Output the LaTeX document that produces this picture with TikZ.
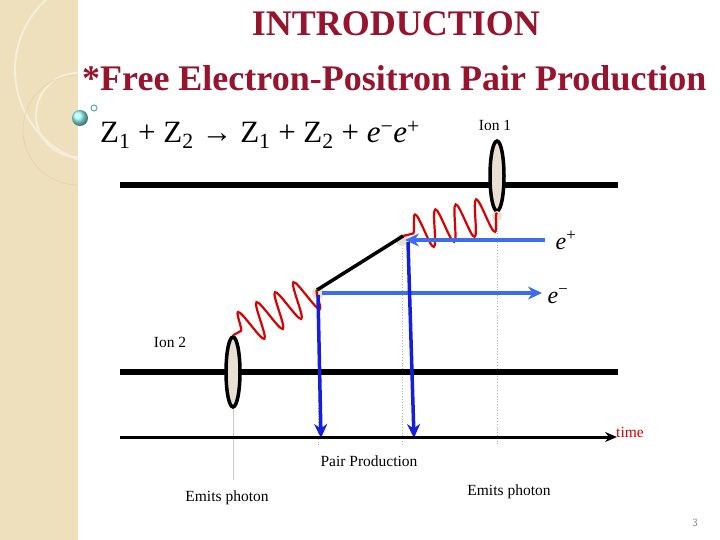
\documentclass[tikz,border=0pt]{standalone}
\usepackage{fontspec}
\setmainfont{Liberation Serif}
\usetikzlibrary{decorations.pathmorphing,arrows.meta,shapes.geometric}
\definecolor{strip}{RGB}{238,224,188}
\definecolor{titlered}{RGB}{150,20,45}
\definecolor{ltblue}{RGB}{60,110,235}
\definecolor{dkblue}{RGB}{20,30,220}
\definecolor{beige}{RGB}{232,224,210}
\tikzset{
  track/.style={line width=6.5pt},
  ion/.style={draw,line width=3.5pt,fill=beige,ellipse,minimum width=14pt,minimum height=70pt,inner sep=0pt},
  photon/.style={red!85!black,line width=2.2pt,decorate,decoration={snake,amplitude=18pt,segment length=21pt}},
  guide/.style={gray!60,line width=0.8pt,dotted},
  lblue/.style={ltblue,line width=4pt,-{Stealth[length=14pt,width=13pt]}},
  dblue/.style={dkblue,line width=3.5pt,-{Stealth[length=14pt,width=13pt]}},
  lbl/.style={font=\fontsize{15.5}{18}\selectfont,inner sep=1pt}
}
\begin{document}
\begin{tikzpicture}[x=1pt,y=-1pt]
\useasboundingbox (0,0) rectangle (720,540);
\fill[white] (0,0) rectangle (720,540);
\fill[strip] (0,0) rectangle (78,540);
\begin{scope}
\clip (0,0) rectangle (78,540);
\draw[white!45!strip,line width=2pt] (78,115) circle (42);
\draw[white!45!strip,line width=2pt] (110,70) circle (95);
\draw[strip!85!brown,line width=0.6pt] (78,130) circle (55);
\end{scope}
\shade[ball color=cyan!40] (80,118) circle (8);
\draw[cyan!60!gray,line width=1pt,fill=white] (94,108) circle (3);
\node[titlered,font=\bfseries\fontsize{36}{38}\selectfont] (title) at (396,24) {INTRODUCTION};
\node[titlered,font=\bfseries\fontsize{36}{38}\selectfont,anchor=west,inner sep=0] (sub) at (82,78) {*Free Electron-Positron Pair Production};
\node[font=\fontsize{31}{33}\selectfont,anchor=west,inner sep=0] (eq) at (100,135) {Z\textsubscript{1} + Z\textsubscript{2} → Z\textsubscript{1} + Z\textsubscript{2} + \textit{e}\textsuperscript{−}\textit{e}\textsuperscript{+}};
\node[lbl] (ion1l) at (495,125) {Ion 1};
\node[lbl] (ion2l) at (170,342) {Ion 2};
% guides
\coordinate (g1t) at (497,211); \coordinate (g1b) at (497,445);
\coordinate (g2t) at (402,245); \coordinate (g2b) at (402,445);
\coordinate (g3t) at (318,296); \coordinate (g3b) at (318,445);
\draw[guide] (g1t) -- (g1b);
\draw[guide] (g2t) -- (g2b);
\draw[guide] (g3t) -- (g3b);
\coordinate (s1) at (233,405); \coordinate (s2) at (233,480);
\draw[gray!40,line width=1pt] (s1) -- (s2);
% tracks
\coordinate (t1a) at (120,185); \coordinate (t1b) at (618,185);
\coordinate (t2a) at (120,372); \coordinate (t2b) at (618,372);
\draw[track] (t1a) -- (t1b);
\draw[track] (t2a) -- (t2b);
\node[ion] (ion1) at (497,176) {};
\node[ion] (ion2) at (233,372) {};
% vertices
\fill[beige] (497,216) circle (5);
\fill[beige] (402,240) circle (6);
\fill[beige] (318,293) circle (6);
\coordinate (v1) at (403,236);
\coordinate (v2) at (317,290);
\draw[photon] (ion1.south) -- (v1);
\draw[photon] (v2) -- (ion2.north);
\draw[line width=3.5pt] (v2) -- (v1);
\coordinate (pstart) at (545,240); \coordinate (pend) at (405,240);
\draw[lblue] (pstart) -- (pend);
\node[lbl,font=\fontsize{24}{26}\selectfont] (ep) at (566,240) {\textit{e}\textsuperscript{+}};
\coordinate (estart) at (322,293); \coordinate (eend) at (542,293);
\draw[lblue] (estart) -- (eend);
\node[lbl,font=\fontsize{24}{26}\selectfont] (em) at (558,296) {\textit{e}\textsuperscript{−}};
\coordinate (d1s) at (318,295); \coordinate (d1e) at (321,438);
\coordinate (d2s) at (408,242); \coordinate (d2e) at (414,438);
\draw[dblue] (d1s) -- (d1e);
\draw[dblue] (d2s) -- (d2e);
% time axis
\coordinate (ta) at (120,437); \coordinate (tb) at (617,437);
\draw[line width=3pt,-{Stealth[length=12pt,width=10pt]}] (ta) -- (tb);
\node[lbl,red!85!black] (time) at (630,432) {time};
\node[lbl] (pp) at (369,461) {Pair Production};
\node[lbl] (ep1) at (227,498) {Emits photon};
\node[lbl] (ep2) at (509,492) {Emits photon};
\node[gray,font=\fontsize{11}{12}\selectfont\sffamily] (pg) at (695,523) {3};
\end{tikzpicture}
\end{document}
